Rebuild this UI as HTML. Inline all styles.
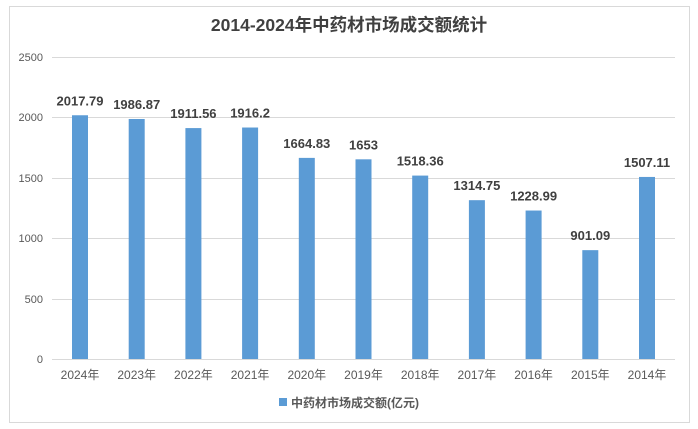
<!DOCTYPE html>
<html><head><meta charset="utf-8"><style>
body{margin:0;background:#fff}
svg{display:block;font-family:"Liberation Sans","Noto Sans CJK SC",sans-serif}
</style></head><body>
<svg width="698" height="429" xmlns="http://www.w3.org/2000/svg">
<rect x="9.5" y="6.5" width="680" height="416" fill="#fff" stroke="#d9d9d9"/>
<text x="349" y="31" text-anchor="middle" font-size="17.5" font-weight="bold" fill="#404040">2014-2024年中药材市场成交额统计</text>
<g stroke="#d9d9d9" stroke-width="1">
<line x1="52" x2="675" y1="57.5" y2="57.5"/>
<line x1="52" x2="675" y1="117.5" y2="117.5"/>
<line x1="52" x2="675" y1="178.5" y2="178.5"/>
<line x1="52" x2="675" y1="238.5" y2="238.5"/>
<line x1="52" x2="675" y1="299.5" y2="299.5"/>
<line x1="52" x2="675" y1="359.5" y2="359.5"/>
</g>
<g font-size="11" fill="#595959" text-anchor="end">
<text x="43" y="61">2500</text><text x="43" y="121">2000</text><text x="43" y="182">1500</text>
<text x="43" y="242">1000</text><text x="43" y="303">500</text><text x="43" y="363">0</text>
</g>
<g id="bars" fill="#5b9bd5"></g>
<g fill="#404040" font-size="13" font-weight="bold" text-anchor="middle" id="lbl"></g>
<g fill="#595959" font-size="12" text-anchor="middle" id="xl"></g>
<rect x="279" y="398" width="8" height="8" fill="#5b9bd5"/>
<text x="291" y="407" font-size="12" font-weight="bold" fill="#595959">中药材市场成交额(亿元)</text>
<script>
var v=[2017.79,1986.87,1911.56,1916.2,1664.83,1653,1518.36,1314.75,1228.99,901.09,1507.11];
var t=["2017.79","1986.87","1911.56","1916.2","1664.83","1653","1518.36","1314.75","1228.99","901.09","1507.11"];
var ns="http://www.w3.org/2000/svg",b=document.getElementById("bars"),l=document.getElementById("lbl"),x=document.getElementById("xl");
for(var i=0;i<11;i++){var cx=80+56.7*i,h=v[i]*0.1208,y=359-h;
var r=document.createElementNS(ns,"rect");r.setAttribute("x",cx-8);r.setAttribute("y",y);r.setAttribute("width",16);r.setAttribute("height",h);b.appendChild(r);
var a=document.createElementNS(ns,"text");a.setAttribute("x",cx);a.setAttribute("y",y-10);a.textContent=t[i];l.appendChild(a);
var c=document.createElementNS(ns,"text");c.setAttribute("x",cx);c.setAttribute("y",379);c.textContent=(2024-i)+"年";x.appendChild(c);}
</script>
</svg>
</body></html>
